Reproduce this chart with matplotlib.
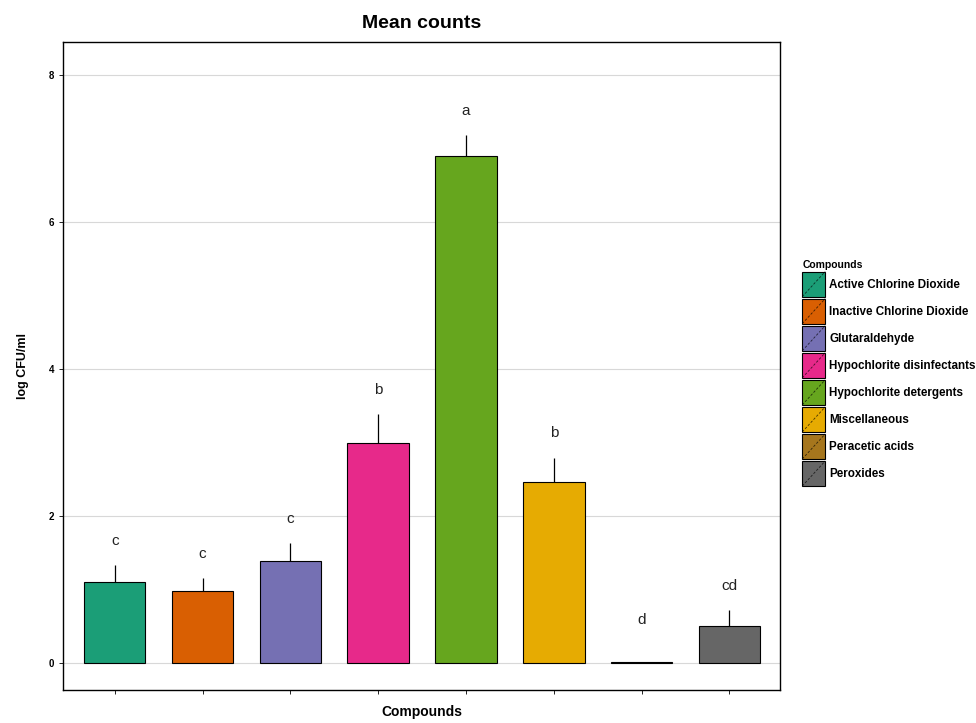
import matplotlib
matplotlib.use("Agg")
import matplotlib.pyplot as plt
from matplotlib.patches import Patch, Rectangle
from matplotlib.lines import Line2D
from matplotlib.legend_handler import HandlerPatch

plt.rcParams['font.family'] = ['Liberation Sans', 'DejaVu Sans']

compounds = ['Active Chlorine Dioxide', 'Inactive Chlorine Dioxide', 'Glutaraldehyde',
             'Hypochlorite disinfectants', 'Hypochlorite detergents', 'Miscellaneous',
             'Peracetic acids', 'Peroxides']
means = [1.10, 0.97, 1.39, 2.99, 6.89, 2.46, 0.01, 0.50]
se = [0.23, 0.18, 0.24, 0.39, 0.29, 0.33, 0.0, 0.22]
letters = ['c', 'c', 'c', 'b', 'a', 'b', 'd', 'cd']
colors = ['#1B9E77', '#D95F02', '#7570B3', '#E7298A', '#66A61E', '#E6AB02', '#A6761D', '#666666']


class DiagHandler(HandlerPatch):
    # filled square with a dashed diagonal, like ggplot's bar key
    def create_artists(self, legend, orig_handle, xdescent, ydescent, width, height, fontsize, trans):
        r = Rectangle((-xdescent, -ydescent), width, height,
                      facecolor=orig_handle.get_facecolor(), edgecolor='black', lw=0.8, transform=trans)
        ln = Line2D([-xdescent, -xdescent + width], [-ydescent, -ydescent + height],
                    color='black', lw=0.6, ls=(0, (3, 2)), alpha=0.7, transform=trans)
        return [r, ln]


fig = plt.figure(figsize=(9.76, 7.23), dpi=100)
ax = fig.add_axes([0.0645, 0.0456, 0.735, 0.896])

x = list(range(len(compounds)))
ax.bar(x, means, width=0.7, color=colors, edgecolor='black', linewidth=0.8, zorder=3)
tops = [m + s for m, s in zip(means, se)]
ax.vlines(x, means, tops, color='black', lw=0.9, zorder=4)

for xi, t, lab in zip(x, tops, letters):
    ax.text(xi, max(t, 0.25) + 0.33, lab, ha='center', va='center', fontsize=11, color='#222222')

ax.set_ylim(-0.37, 8.44)
ax.set_xlim(-0.59, 7.58)
ax.set_yticks([0, 2, 4, 6, 8])
ax.set_xticks(x)
ax.set_xticklabels([])
ax.tick_params(axis='both', length=3, width=0.6, labelsize=7)
for lbl in ax.get_yticklabels():
    lbl.set_fontweight('bold')
ax.grid(axis='y', color='#d8d8d8', lw=0.8, zorder=0)
ax.set_axisbelow(True)
for sp in ax.spines.values():
    sp.set_linewidth(1.0)

ax.set_title('Mean counts', fontsize=14, fontweight='bold', pad=10)
ax.set_xlabel('Compounds', fontsize=10, fontweight='bold', labelpad=4)
ax.set_ylabel('log CFU/ml', fontsize=9, fontweight='bold', labelpad=14)

handles = [Patch(facecolor=c, label=n) for c, n in zip(colors, compounds)]
leg = fig.legend(handles=handles, title='Compounds', loc='upper left',
                 bbox_to_anchor=(0.822, 0.641), frameon=False,
                 prop={'size': 8.4, 'weight': 'bold'},
                 handler_map={Patch: DiagHandler()},
                 handlelength=1.97, handleheight=2.93, handletextpad=0.35,
                 labelspacing=0.17, borderaxespad=0, borderpad=0)
leg.get_title().set_fontweight('bold')
leg.get_title().set_fontsize(7.5)
leg._legend_box.align = 'left'

fig.savefig('out.png', dpi=100)
